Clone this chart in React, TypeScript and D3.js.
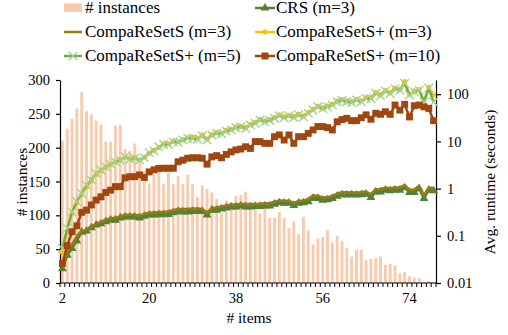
import React, { useEffect, useRef } from "react";
import * as d3 from "d3";

// categories (# items) and tick labels
const items = d3.range(2, 80);
const xTickLabels = [2, 20, 38, 56, 74];
const leftTicks = [0, 50, 100, 150, 200, 250, 300];
const rightTicks = [0.01, 0.1, 1, 10, 100];

// # instances (bars, left axis)
const instances = [
  210, 228, 243, 258, 282, 254, 249, 240, 234, 209,
  209, 233, 234, 198, 195, 206, 185, 165, 147, 160,
  170, 147, 164, 146, 158, 146, 160, 146, 127, 144,
  139, 134, 124, 103, 122, 116, 129, 130, 135, 118,
  110, 103, 111, 96, 96, 105, 96, 81, 91, 72,
  98, 78, 57, 66, 68, 78, 60, 70, 62, 52,
  39, 49, 49, 34, 36, 37, 39, 27, 28, 26,
  14, 16, 10, 8, 7, 1, 3, 1,
];

// avg. runtime in seconds (right axis, log)
const crs = [
  0.02, 0.039, 0.054, 0.078, 0.119, 0.126, 0.148, 0.169, 0.18, 0.2,
  0.215, 0.215, 0.24, 0.25, 0.25, 0.25, 0.24, 0.26, 0.275, 0.275,
  0.28, 0.28, 0.285, 0.31, 0.33, 0.32, 0.32, 0.33, 0.33, 0.33,
  0.275, 0.35, 0.35, 0.37, 0.39, 0.41, 0.41, 0.43, 0.41, 0.41,
  0.42, 0.42, 0.43, 0.43, 0.47, 0.5, 0.49, 0.49, 0.44, 0.49,
  0.5, 0.53, 0.62, 0.62, 0.57, 0.58, 0.62, 0.69, 0.74, 0.73,
  0.74, 0.73, 0.74, 0.76, 0.65, 0.85, 0.85, 0.93, 0.9, 0.93,
  0.93, 1.04, 0.83, 0.83, 1.0, 0.62, 0.93, 0.9,
];

const compaS3 = [
  0.022, 0.045, 0.065, 0.1, 0.125, 0.135, 0.16, 0.18, 0.2, 0.22,
  0.235, 0.24, 0.26, 0.28, 0.28, 0.28, 0.27, 0.29, 0.31, 0.31,
  0.32, 0.32, 0.33, 0.35, 0.37, 0.37, 0.37, 0.38, 0.38, 0.37,
  0.31, 0.39, 0.4, 0.42, 0.44, 0.46, 0.46, 0.48, 0.47, 0.47,
  0.47, 0.48, 0.49, 0.49, 0.53, 0.56, 0.55, 0.55, 0.5, 0.55,
  0.56, 0.6, 0.72, 0.7, 0.65, 0.66, 0.7, 0.78, 0.85, 0.83,
  0.84, 0.82, 0.85, 0.87, 0.76, 0.97, 0.98, 1.05, 1.02, 1.06,
  1.07, 1.18, 0.95, 0.96, 1.15, 0.72, 1.06, 1.03,
];

const compaPlus3 = [
  0.045, 0.13, 0.3, 0.5, 0.75, 1.1, 1.45, 2.0, 2.4, 2.8,
  3.2, 3.6, 4.1, 4.6, 4.3, 4.5, 4.1, 4.6, 5.6, 6.5,
  7.4, 8.8, 8.9, 10.2, 9.9, 11, 12, 12.2, 11.5, 13.8,
  11.2, 14, 15.5, 15, 17.2, 18, 20.5, 21, 20, 23,
  25.5, 29.5, 27.5, 29, 32, 36.5, 33.5, 36, 34, 38,
  35, 41, 48, 56, 52, 57, 62, 72, 76, 72,
  70, 78, 73, 85, 84, 108, 98, 120, 108, 136,
  127, 185, 100, 118, 126, 74, 140, 96,
];

const compaPlus5 = [
  0.054, 0.144, 0.32, 0.53, 0.79, 1.19, 1.52, 2.1, 2.46, 2.91,
  3.27, 3.7, 4.0, 4.74, 4.2, 4.4, 4.0, 4.5, 5.8, 6.3,
  7.7, 8.6, 8.6, 9.8, 9.6, 10.7, 11.6, 11.5, 11.2, 13.2,
  10.7, 13.6, 14.8, 14.5, 16.6, 17.5, 19.5, 20.4, 18.9, 22.3,
  24.2, 28.5, 26, 28, 30.8, 35, 31.7, 35, 32, 36.5,
  33, 39.5, 46, 54, 50, 54, 59, 69, 73, 69,
  67, 75, 69, 81, 80, 104, 93, 116, 104, 131,
  121, 170, 96, 112, 121, 69, 135, 68,
];

const compaPlus10 = [
  0.026, 0.062, 0.122, 0.163, 0.315, 0.35, 0.45, 0.57, 0.67, 0.83,
  0.93, 1.1, 1.1, 1.69, 1.79, 1.79, 1.95, 1.72, 2.26, 2.5,
  2.68, 2.7, 2.7, 2.7, 3.7, 4.0, 4.4, 4.5, 4.5, 4.4,
  3.3, 4.7, 5.0, 4.5, 5.3, 6.0, 6.6, 6.9, 7.7, 7.1,
  9.9, 9.9, 9.1, 9.1, 12.6, 13.7, 10.7, 13.7, 9.1, 12.6,
  12.6, 14.8, 17.5, 20.6, 20.6, 19.6, 17.5, 26, 29, 30.8,
  27.5, 27.5, 31.7, 36.5, 29.5, 39.5, 37.5, 42.5, 37.5, 59,
  46, 61, 33, 57, 59, 54, 50, 27.5,
];

const FONT = "'Liberation Serif', 'Times New Roman', serif";

export default function App() {
  const ref = useRef<SVGSVGElement>(null);

  useEffect(() => {
    const svg = d3.select(ref.current);
    svg.selectAll("*").remove();

    const left = 60, right = 436, top = 80, bottom = 283;

    const x = d3
      .scaleBand<number>()
      .domain(items)
      .range([left, right])
      .paddingInner(0.4)
      .paddingOuter(0.2);
    const cx = (d: number) => (x(d) as number) + x.bandwidth() / 2;
    const yL = d3.scaleLinear().domain([0, 300]).range([bottom, top]);
    const yR = d3.scaleLog().domain([0.01, 200]).range([bottom, top]);

    // bars
    svg
      .append("g")
      .selectAll("rect")
      .data(instances)
      .enter()
      .append("rect")
      .attr("x", (d, i) => x(items[i]) as number)
      .attr("width", x.bandwidth())
      .attr("y", (d) => yL(d))
      .attr("height", (d) => bottom - yL(d))
      .attr("fill", "#F8CBAD");

    // left axis
    const gL = svg
      .append("g")
      .attr("transform", `translate(${left},0)`)
      .call(d3.axisLeft(yL).tickValues(leftTicks).tickSize(4).tickSizeOuter(0).tickPadding(6));
    gL.selectAll("text").style("font-family", FONT).style("font-size", "14.5px").attr("fill", "#000");
    gL.selectAll("line,path").attr("stroke", "#000").attr("stroke-width", 1.2);

    // right axis
    const gR = svg
      .append("g")
      .attr("transform", `translate(${right},0)`)
      .call(
        d3
          .axisRight(yR)
          .tickValues(rightTicks)
          .tickFormat((d) => String(d))
          .tickSize(5)
          .tickSizeOuter(0)
          .tickPadding(6)
      );
    gR.selectAll("text").style("font-family", FONT).style("font-size", "14.5px").attr("fill", "#000");
    gR.selectAll("line,path").attr("stroke", "#000").attr("stroke-width", 1.2);

    // x axis: ticks between categories
    const gX = svg.append("g");
    gX.append("line")
      .attr("x1", left)
      .attr("x2", right)
      .attr("y1", bottom)
      .attr("y2", bottom)
      .attr("stroke", "#000")
      .attr("stroke-width", 1.2);
    const step = x.step();
    const x0 = (x(items[0]) as number) - x.paddingOuter() * step;
    gX.selectAll("line.tk")
      .data(d3.range(items.length + 1))
      .enter()
      .append("line")
      .attr("class", "tk")
      .attr("x1", (k) => x0 + k * step)
      .attr("x2", (k) => x0 + k * step)
      .attr("y1", bottom)
      .attr("y2", bottom + 4)
      .attr("stroke", "#000")
      .attr("stroke-width", 1);
    gX.selectAll("text")
      .data(xTickLabels)
      .enter()
      .append("text")
      .attr("x", (d) => cx(d))
      .attr("y", 303)
      .attr("text-anchor", "middle")
      .style("font-family", FONT)
      .style("font-size", "14.5px")
      .text((d) => d);

    // axis titles
    svg.append("text")
      .attr("x", (left + right) / 2 + 1)
      .attr("y", 323)
      .attr("text-anchor", "middle")
      .style("font-family", FONT)
      .style("font-size", "15.5px")
      .text("# items");
    svg.append("text")
      .attr("transform", "translate(27,182) rotate(-90)")
      .attr("text-anchor", "middle")
      .style("font-family", FONT)
      .style("font-size", "15.5px")
      .text("# instances");
    svg.append("text")
      .attr("transform", "translate(495,182) rotate(-90)")
      .attr("text-anchor", "middle")
      .style("font-family", FONT)
      .style("font-size", "15.5px")
      .text("Avg. runtime (seconds)");

    // series
    const line = d3
      .line<number>()
      .x((d, i) => cx(items[i]))
      .y((d) => yR(d));

    const tri = d3.symbol().type(d3.symbolTriangle).size(34);
    const sq = d3.symbol().type(d3.symbolSquare).size(48);
    const cross = d3.symbol().type(d3.symbolX).size(50);
    const circ = d3.symbol().type(d3.symbolCircle).size(20);

    const series = [
      { data: crs, color: "#548235", width: 2.5, marker: tri, mFill: "#548235", mStroke: "none" },
      { data: compaS3, color: "#9C7A10", width: 2.5, marker: null, mFill: "", mStroke: "" },
      { data: compaPlus3, color: "#FFC000", width: 2.25, marker: circ, mFill: "#FFC000", mStroke: "none" },
      { data: compaPlus5, color: "#70AD47", width: 2.5, marker: cross, mFill: "none", mStroke: "#A9D18E" },
      { data: compaPlus10, color: "#A0460F", width: 2.5, marker: sq, mFill: "#A0460F", mStroke: "none" },
    ];

    series.forEach((s) => {
      const g = svg.append("g");
      g.append("path")
        .datum(s.data)
        .attr("fill", "none")
        .attr("stroke", s.color)
        .attr("stroke-width", s.width)
        .attr("stroke-linejoin", "round")
        .attr("d", line);
      if (s.marker) {
        g.selectAll("path.m")
          .data(s.data)
          .enter()
          .append("path")
          .attr("class", "m")
          .attr("transform", (d, i) => `translate(${cx(items[i])},${yR(d)})`)
          .attr("d", s.marker as any)
          .attr("fill", s.mFill)
          .attr("stroke", s.mStroke)
          .attr("stroke-width", 1.4);
      }
    });

    // legend
    const legend = [
      { label: "# instances", col: 0, row: 0, kind: "bar", color: "#F8CBAD", marker: null, mFill: "", mStroke: "" },
      { label: "CRS (m=3)", col: 1, row: 0, kind: "line", ...series[0] },
      { label: "CompaReSetS (m=3)", col: 0, row: 1, kind: "line", ...series[1] },
      { label: "CompaReSetS+ (m=3)", col: 1, row: 1, kind: "line", ...series[2] },
      { label: "CompaReSetS+ (m=5)", col: 0, row: 2, kind: "line", ...series[3] },
      { label: "CompaReSetS+ (m=10)", col: 1, row: 2, kind: "line", ...series[4] },
    ];
    const colX = [[64, 82, 85], [255, 275, 276]];
    const rowY = [12.5, 36.5, 60.5];
    legend.forEach((l: any) => {
      const [a, b, t] = colX[l.col];
      const by = rowY[l.row];
      const g = svg.append("g");
      if (l.kind === "bar") {
        g.append("rect").attr("x", a).attr("y", by - 9).attr("width", b - a).attr("height", 8.5).attr("fill", l.color);
      } else {
        g.append("line")
          .attr("x1", a)
          .attr("x2", b)
          .attr("y1", by - 4.5)
          .attr("y2", by - 4.5)
          .attr("stroke", l.color)
          .attr("stroke-width", l.width);
        if (l.marker) {
          g.append("path")
            .attr("transform", `translate(${(a + b) / 2},${by - 4.5})`)
            .attr("d", l.marker)
            .attr("fill", l.mFill)
            .attr("stroke", l.mStroke)
            .attr("stroke-width", 1.4);
        }
      }
      g.append("text")
        .attr("x", t)
        .attr("y", by)
        .style("font-family", FONT)
        .style("font-size", "17px")
        .text(l.label);
    });
  }, []);

  return (
    <svg
      ref={ref}
      width={508}
      height={335}
      style={{ position: "absolute", left: 0, top: 0, background: "#fff" }}
    />
  );
}
